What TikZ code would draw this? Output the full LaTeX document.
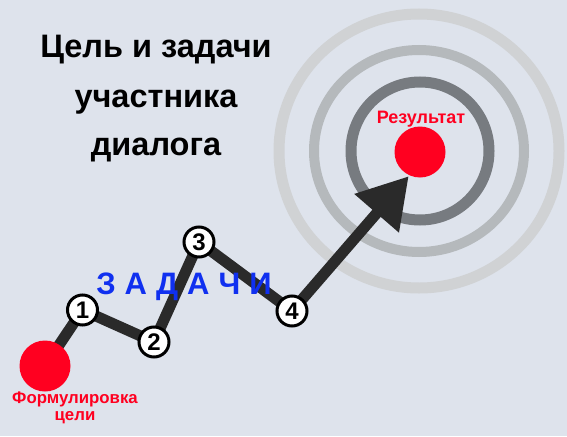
\documentclass[tikz,border=0pt]{standalone}
\usepackage{fontspec}
\setmainfont{Liberation Sans}
\usetikzlibrary{arrows.meta}
\definecolor{bg}{HTML}{DEE3EC}
\definecolor{ringA}{HTML}{777B80}
\definecolor{ringB}{HTML}{B5B9BC}
\definecolor{ringC}{HTML}{D0D2D4}
\definecolor{tgtred}{HTML}{FF0020}
\definecolor{linedark}{HTML}{2A2A2A}
\definecolor{zblue}{HTML}{1030F0}
\tikzset{
  stepnum/.style={circle, draw=black, line width=3pt, fill=white, minimum size=30pt, inner sep=0pt, font=\fontsize{24}{24}\selectfont\bfseries},
  redspot/.style={circle, fill=tgtred, minimum size=51pt, inner sep=0pt},
  path/.style={draw=linedark, line width=11pt},
  titletext/.style={font=\fontsize{32.5}{32.5}\selectfont\bfseries, anchor=base, inner sep=0pt},
  redlabel/.style={text=tgtred, font=\fontsize{18}{15}\selectfont\bfseries, align=center, inner sep=0pt}
}
\begin{document}
\begin{tikzpicture}[x=1pt,y=-1pt]
\fill[bg] (0,0) rectangle (567,436);
\useasboundingbox (0,0) rectangle (567,436);
% rings
\draw[ringC, line width=11pt] (419,151) ellipse [x radius=140, y radius=137];
\draw[ringB, line width=10pt] (419,151) ellipse [x radius=105, y radius=101];
\draw[ringA, line width=11pt] (420,151) ellipse [x radius=69, y radius=69];
% title
\node[titletext] (t1) at (156,58) {Цель и задачи};
\node[titletext] (t2) at (156,107) {участника};
\node[titletext] (t3) at (156,155) {диалога};
% path
\coordinate (s0) at (45,366);
\coordinate (p1) at (82.5,310);
\coordinate (p2) at (154,342);
\coordinate (p3) at (199,242);
\coordinate (p4) at (292,311);
\coordinate (tip) at (408,177);
\draw[path] (s0) -- (p1) -- (p2) -- (p3) -- (p4);
\draw[path, -{Triangle[length=49pt,width=56pt]}, shorten >=-1pt] (p4) -- (tip);
% spots
\node[redspot] (goal) at (420,152) {};
\node[redspot] (start) at (s0) {};
\node[redlabel, anchor=base] (reslab) at (421,123) {Результат};
\node[redlabel, anchor=base, font=\fontsize{16.8}{15}\selectfont\bfseries] (startlab) at (75,403) {Формулировка};
\node[redlabel, anchor=base, font=\fontsize{16.8}{15}\selectfont\bfseries] (startlab2) at (75,420) {цели};
% label
\node[text=zblue, font=\fontsize{31}{31}\selectfont\bfseries, anchor=base, inner sep=0pt] (tasks) at (184,294) {З\hspace{9pt}А\hspace{9pt}Д\hspace{9pt}А\hspace{9pt}Ч\hspace{9pt}И};
\node[stepnum] (n1) at (p1) {1};
\node[stepnum] (n2) at (p2) {2};
\node[stepnum] (n3) at (p3) {3};
\node[stepnum] (n4) at (p4) {4};
\end{tikzpicture}
\end{document}
